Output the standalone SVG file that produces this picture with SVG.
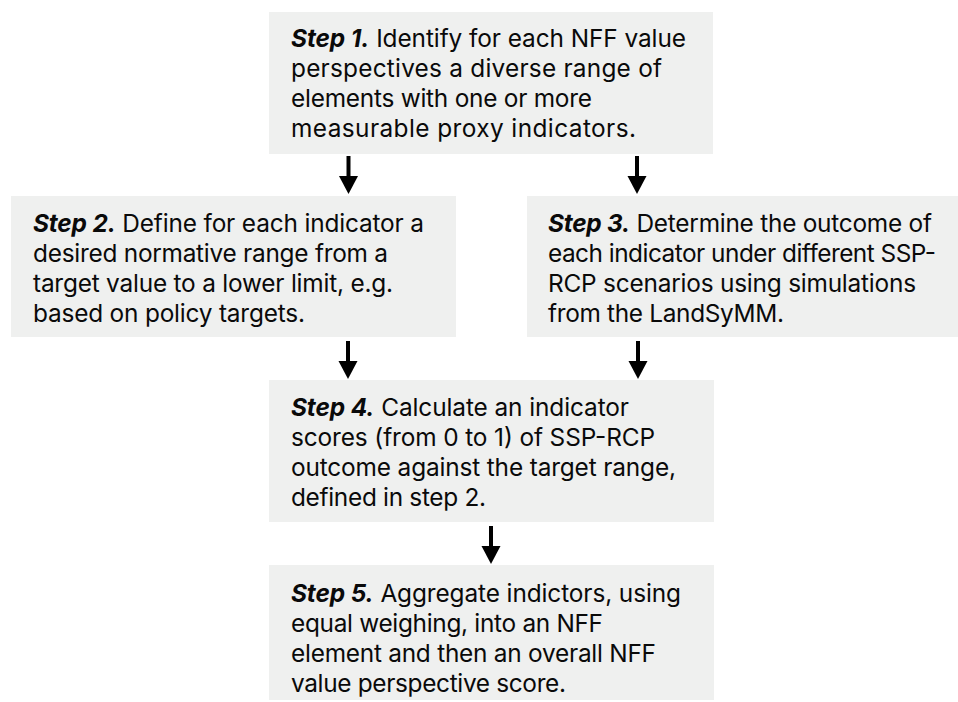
<svg xmlns="http://www.w3.org/2000/svg" width="958" height="702" viewBox="0 0 958 702">
<style>
.box{fill:#eff0ef;}
text{font-family:Inter,"Liberation Sans",sans-serif;font-size:24.4px;fill:#0a0a0a;}
.b{font-weight:bold;font-style:italic;}
.c{stroke:#000;stroke-width:4;fill:none;}
.h{fill:#000;}
</style>
<defs>
<g id="arrow">
<line class="c" x1="0" y1="0" x2="0" y2="22"/>
<polygon class="h" points="-9.5,20 9.5,20 0,38"/>
</g>
</defs>
<rect width="958" height="702" fill="#fff"/>
<g id="step1">
<rect class="box" x="269" y="12" width="444" height="142"/>
<text x="291" y="47" textLength="395" lengthAdjust="spacing"><tspan class="b">Step 1.</tspan> Identify for each NFF value</text>
<text x="291" y="77" textLength="371" lengthAdjust="spacing">perspectives a diverse range of</text>
<text x="291" y="107" textLength="301" lengthAdjust="spacing">elements with one or more</text>
<text x="291" y="137" textLength="345" lengthAdjust="spacing">measurable proxy indicators.</text>
</g>
<g id="step2">
<rect class="box" x="11" y="196" width="445" height="141"/>
<text x="33" y="232" textLength="391" lengthAdjust="spacing"><tspan class="b">Step 2.</tspan> Define for each indicator a</text>
<text x="33" y="262" textLength="355" lengthAdjust="spacing">desired normative range from a</text>
<text x="33" y="292" textLength="360" lengthAdjust="spacing">target value to a lower limit, e.g.</text>
<text x="33" y="322" textLength="272" lengthAdjust="spacing">based on policy targets.</text>
</g>
<g id="step3">
<rect class="box" x="527" y="196" width="431" height="141"/>
<text x="548" y="232" textLength="384" lengthAdjust="spacing"><tspan class="b">Step 3.</tspan> Determine the outcome of</text>
<text x="548" y="262" textLength="388" lengthAdjust="spacing">each indicator under different SSP-</text>
<text x="548" y="292" textLength="368" lengthAdjust="spacing">RCP scenarios using simulations</text>
<text x="548" y="322" textLength="236" lengthAdjust="spacing">from the LandSyMM.</text>
</g>
<g id="step4">
<rect class="box" x="269" y="380" width="445" height="142"/>
<text x="291" y="416" textLength="338" lengthAdjust="spacing"><tspan class="b">Step 4.</tspan> Calculate an indicator</text>
<text x="291" y="446" textLength="364" lengthAdjust="spacing">scores (from 0 to 1) of SSP-RCP</text>
<text x="291" y="476" textLength="385" lengthAdjust="spacing">outcome against the target range,</text>
<text x="291" y="506" textLength="195" lengthAdjust="spacing">defined in step 2.</text>
</g>
<g id="step5">
<rect class="box" x="269" y="565" width="445" height="135"/>
<text x="291" y="602" textLength="390" lengthAdjust="spacing"><tspan class="b">Step 5.</tspan> Aggregate indictors, using</text>
<text x="291" y="632" textLength="312" lengthAdjust="spacing">equal weighing, into an NFF</text>
<text x="291" y="662" textLength="365" lengthAdjust="spacing">element and then an overall NFF</text>
<text x="291" y="692" textLength="275" lengthAdjust="spacing">value perspective score.</text>
</g>
<g id="connectors">
<use href="#arrow" x="348.5" y="156"/>
<use href="#arrow" x="637" y="156"/>
<use href="#arrow" x="348" y="341"/>
<use href="#arrow" x="638" y="341"/>
<use href="#arrow" x="491" y="526"/>
</g>
</svg>
